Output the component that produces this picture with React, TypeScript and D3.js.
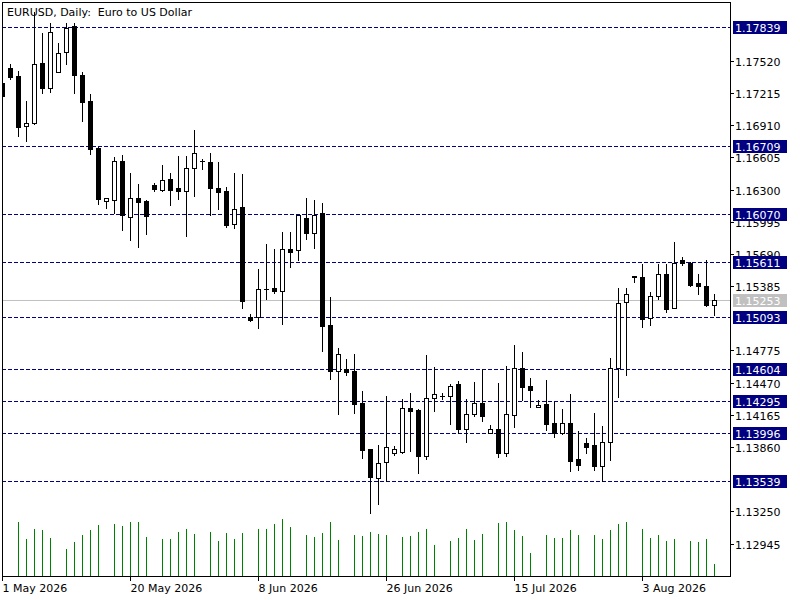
import React, { useEffect, useRef } from 'react';
import * as d3 from 'd3';

// EURUSD daily bars, 1 May 2026 .. 13 Aug 2026 (Sunday bars included)
const opens = [
  1.17307, 1.17456, 1.17373, 1.16902, 1.16934, 1.17496, 1.17262, 1.17418, 1.17607, 1.17847,
  1.17383, 1.17136, 1.16691, 1.16191, 1.16201, 1.16568, 1.16044, 1.16224, 1.16189, 1.16340,
  1.16296, 1.16404, 1.16312, 1.16286, 1.16504, 1.16568, 1.16565, 1.16318, 1.16283, 1.15977,
  1.16138, 1.15092, 1.15096, 1.15358, 1.15364, 1.15339, 1.15740, 1.15727, 1.16034, 1.15892,
  1.16075, 1.15014, 1.14581, 1.14603, 1.14578, 1.14281, 1.13839, 1.13570, 1.13718, 1.13807,
  1.13813, 1.14234, 1.14211, 1.13775, 1.14329, 1.14345, 1.14344, 1.14455, 1.14035, 1.14175,
  1.14281, 1.13997, 1.14028, 1.13807, 1.14164, 1.14613, 1.14438, 1.14243, 1.14265, 1.14085,
  1.13997, 1.14092, 1.13744, 1.13902, 1.13877, 1.13680, 1.13912, 1.14613, 1.15238, 1.15481,
  1.15475, 1.15087, 1.15291, 1.15504, 1.15181, 1.15632, 1.15601, 1.15412, 1.15386, 1.15206,
];
const highs = [
  1.17316, 1.17487, 1.17423, 1.17139, 1.17980, 1.17781, 1.17875, 1.17686, 1.17875, 1.17875,
  1.17418, 1.17209, 1.16700, 1.16224, 1.16606, 1.16625, 1.16454, 1.16350, 1.16198, 1.16366,
  1.16530, 1.16454, 1.16615, 1.16615, 1.16861, 1.16587, 1.16650, 1.16561, 1.16328, 1.16454,
  1.16444, 1.15124, 1.15544, 1.15781, 1.15734, 1.15898, 1.15898, 1.16058, 1.16217, 1.16198,
  1.16170, 1.15282, 1.14802, 1.14691, 1.14739, 1.14388, 1.13840, 1.13877, 1.14344, 1.13870,
  1.14312, 1.14369, 1.14224, 1.14729, 1.14622, 1.14369, 1.14455, 1.14486, 1.14312, 1.14473,
  1.14603, 1.14066, 1.14464, 1.14628, 1.14824, 1.14764, 1.14518, 1.14306, 1.14492, 1.14287,
  1.14218, 1.14360, 1.14012, 1.13950, 1.14180, 1.14059, 1.14708, 1.15371, 1.15371, 1.15481,
  1.15592, 1.15333, 1.15592, 1.15592, 1.15807, 1.15665, 1.15617, 1.15497, 1.15630, 1.15314,
];
const lows = [
  1.17174, 1.17345, 1.16807, 1.16760, 1.16918, 1.17219, 1.17224, 1.17418, 1.17487, 1.17212,
  1.16950, 1.16641, 1.16167, 1.16129, 1.16082, 1.15917, 1.15822, 1.15756, 1.15876, 1.16286,
  1.16286, 1.16151, 1.16208, 1.15860, 1.16239, 1.16492, 1.16056, 1.16119, 1.15945, 1.15933,
  1.15181, 1.15054, 1.14988, 1.15260, 1.15317, 1.15023, 1.15566, 1.15630, 1.15829, 1.15743,
  1.14770, 1.14502, 1.14170, 1.14540, 1.14180, 1.13756, 1.13239, 1.13317, 1.13538, 1.13782,
  1.13801, 1.13822, 1.13611, 1.13750, 1.14202, 1.14312, 1.14075, 1.13997, 1.13908, 1.14154,
  1.14107, 1.13995, 1.13766, 1.13775, 1.14050, 1.14306, 1.14239, 1.14243, 1.14019, 1.13959,
  1.13987, 1.13633, 1.13642, 1.13801, 1.13642, 1.13538, 1.13737, 1.14334, 1.14543, 1.15428,
  1.14998, 1.15016, 1.15267, 1.15140, 1.15180, 1.15582, 1.15386, 1.15307, 1.15197, 1.15108,
];
const closes = [
  1.17186, 1.17367, 1.16893, 1.16934, 1.17487, 1.17262, 1.17797, 1.17598, 1.17835, 1.17385,
  1.17130, 1.16688, 1.16208, 1.16224, 1.16574, 1.16056, 1.16224, 1.16182, 1.16049, 1.16302,
  1.16394, 1.16296, 1.16286, 1.16508, 1.16643, 1.16566, 1.16312, 1.16277, 1.15961, 1.16119,
  1.15244, 1.15064, 1.15355, 1.15361, 1.15339, 1.15740, 1.15708, 1.16056, 1.15892, 1.16063,
  1.15007, 1.14581, 1.14739, 1.14571, 1.14268, 1.13832, 1.13576, 1.13713, 1.13864, 1.13845,
  1.14234, 1.14202, 1.13775, 1.14329, 1.14366, 1.14343, 1.14438, 1.14028, 1.14177, 1.14273,
  1.14154, 1.14028, 1.13807, 1.14170, 1.14613, 1.14429, 1.14401, 1.14262, 1.14082, 1.13997,
  1.14092, 1.13728, 1.13690, 1.13864, 1.13680, 1.13912, 1.14613, 1.15229, 1.15314, 1.15471,
  1.15077, 1.15291, 1.15504, 1.15165, 1.15608, 1.15601, 1.15395, 1.15386, 1.15203, 1.15253,
];
// tick volume, thousands (Sunday bars carry none)
const tickVolumes = [
  0,
  0, 54, 37, 47, 46, 38,
  0, 27, 34, 41, 46, 51,
  0, 52, 50, 54, 54, 39,
  0, 37, 37, 44, 47, 42,
  0, 44, 35, 43, 37, 43,
  0, 47, 47, 52, 57, 49,
  0, 41, 39, 43, 54, 36,
  0, 41, 40, 44, 42, 41,
  0, 39, 40, 44, 47, 31,
  0, 35, 38, 47, 36, 42,
  0, 53, 54, 46, 40, 23,
  0, 41, 38, 38, 46, 41,
  0, 41, 37, 46, 52, 54,
  0, 47, 38, 41, 35, 37,
  0, 35, 34, 37, 12,
];

// price scale ticks (the ones not covered by a level box)
const priceTicks = [
  1.17520, 1.17215, 1.16910, 1.16605, 1.16300, 1.15995, 1.15690, 1.15385,
  1.14775, 1.14470, 1.14165, 1.13860, 1.13250, 1.12945,
];
const levelLines = [1.17839, 1.16709, 1.16070, 1.15611, 1.15093, 1.14604, 1.14295, 1.13996, 1.13539];
const currentPrice = 1.15253;

const dateLabels = ['1 May 2026', '20 May 2026', '8 Jun 2026', '26 Jun 2026', '15 Jul 2026', '3 Aug 2026'];
const dateBars = [0, 16, 32, 48, 64, 80];

const App: React.FC = () => {
  const ref = useRef<SVGSVGElement>(null);

  useEffect(() => {
    const left = 2, top = 2, right = 730, bottom = 576;
    const font = '"DejaVu Sans", Verdana, sans-serif';
    const navy = '#000080';

    const svg = d3.select(ref.current);
    svg.selectAll('*').remove();

    // bar index -> pixel column centre, 8px per bar
    const x = d3.scaleLinear().domain([0, 1]).range([left + 0.5, left + 8.5]);
    const y = d3.scaleLinear().domain([1.12945, 1.17520]).range([544.1, 61.3]);
    const yVol = d3.scaleLinear().domain([0, d3.max(tickVolumes) as number]).range([bottom, bottom - 57]);
    const px = (v: number) => Math.floor(v) + 0.5;

    svg.append('rect').attr('width', 800).attr('height', 600).attr('fill', '#fff');

    svg.append('defs').append('clipPath').attr('id', 'plot')
      .append('rect')
      .attr('x', left).attr('y', top)
      .attr('width', right - left).attr('height', bottom - top);

    const plot = svg.append('g').attr('clip-path', 'url(#plot)').attr('shape-rendering', 'crispEdges');

    // horizontal level lines
    plot.selectAll('.level')
      .data(levelLines)
      .enter().append('line')
      .attr('x1', left).attr('x2', right)
      .attr('y1', d => px(y(d))).attr('y2', d => px(y(d)))
      .attr('stroke', navy)
      .attr('stroke-dasharray', '4,2');

    // bid line
    plot.append('line')
      .attr('x1', left).attr('x2', right)
      .attr('y1', px(y(currentPrice))).attr('y2', px(y(currentPrice)))
      .attr('stroke', '#c0c0c0');

    // volumes
    plot.selectAll('.vol')
      .data(tickVolumes.map((v, i) => ({ v, i })).filter(d => d.v > 0))
      .enter().append('line')
      .attr('x1', d => x(d.i)).attr('x2', d => x(d.i))
      .attr('y1', bottom).attr('y2', d => Math.round(yVol(d.v)))
      .attr('stroke', '#008000');

    const bars = opens.map((o, i) => ({ i, o, h: highs[i], l: lows[i], c: closes[i] }));

    // wicks
    plot.selectAll('.wick')
      .data(bars)
      .enter().append('line')
      .attr('x1', d => x(d.i)).attr('x2', d => x(d.i))
      .attr('y1', d => px(y(d.h)) - 0.5).attr('y2', d => px(y(d.l)) + 0.5)
      .attr('stroke', '#000');

    // bodies
    bars.forEach(d => {
      const yTop = px(y(Math.max(d.o, d.c)));
      const yBot = px(y(Math.min(d.o, d.c)));
      if (yBot - yTop < 1) {
        plot.append('line')
          .attr('x1', x(d.i) - 2.5).attr('x2', x(d.i) + 2.5)
          .attr('y1', yTop).attr('y2', yTop)
          .attr('stroke', '#000');
      } else {
        plot.append('rect')
          .attr('x', x(d.i) - 2).attr('width', 4)
          .attr('y', yTop).attr('height', yBot - yTop)
          .attr('fill', d.c < d.o ? '#000' : '#fff')
          .attr('stroke', '#000');
      }
    });

    // frame
    svg.append('rect')
      .attr('x', left + 0.5).attr('y', top + 0.5)
      .attr('width', right - left).attr('height', bottom - top)
      .attr('fill', 'none').attr('stroke', '#000')
      .attr('shape-rendering', 'crispEdges');

    svg.append('text')
      .attr('x', 7).attr('y', 16)
      .attr('font-family', font).attr('font-size', 11)
      .style('white-space', 'pre')
      .text('EURUSD, Daily:  Euro to US Dollar');

    // price axis
    const axis = svg.append('g').attr('font-family', font).attr('font-size', 11);
    axis.selectAll('.tick')
      .data(priceTicks)
      .enter().append('line')
      .attr('x1', right).attr('x2', right + 4)
      .attr('y1', d => px(y(d))).attr('y2', d => px(y(d)))
      .attr('stroke', '#000').attr('shape-rendering', 'crispEdges');
    axis.selectAll('.tickLabel')
      .data(priceTicks)
      .enter().append('text')
      .attr('x', right + 5).attr('y', d => Math.floor(y(d)) + 5)
      .text(d => d.toFixed(5));

    const boxes = [...levelLines.map(v => ({ v, fill: navy })), { v: currentPrice, fill: '#c0c0c0' }];
    const box = axis.selectAll('.box').data(boxes).enter().append('g');
    box.append('rect')
      .attr('x', right + 3).attr('width', 54)
      .attr('y', d => Math.floor(y(d.v)) - 6).attr('height', 13)
      .attr('fill', d => d.fill);
    box.append('text')
      .attr('x', right + 5).attr('y', d => Math.floor(y(d.v)) + 5)
      .attr('fill', '#fff')
      .text(d => d.v.toFixed(5));

    // date axis
    const dates = svg.append('g').attr('font-family', font).attr('font-size', 11);
    dates.selectAll('.dtick')
      .data(dateBars)
      .enter().append('line')
      .attr('x1', d => x(d)).attr('x2', d => x(d))
      .attr('y1', bottom).attr('y2', bottom + 5)
      .attr('stroke', '#000').attr('shape-rendering', 'crispEdges');
    dates.selectAll('.dlabel')
      .data(dateBars)
      .enter().append('text')
      .attr('x', d => x(d)).attr('y', 592)
      .text((d, i) => dateLabels[i]);
  }, []);

  return <svg ref={ref} width={800} height={600} style={{ position: 'absolute', left: 0, top: 0 }} />;
};

export default App;
